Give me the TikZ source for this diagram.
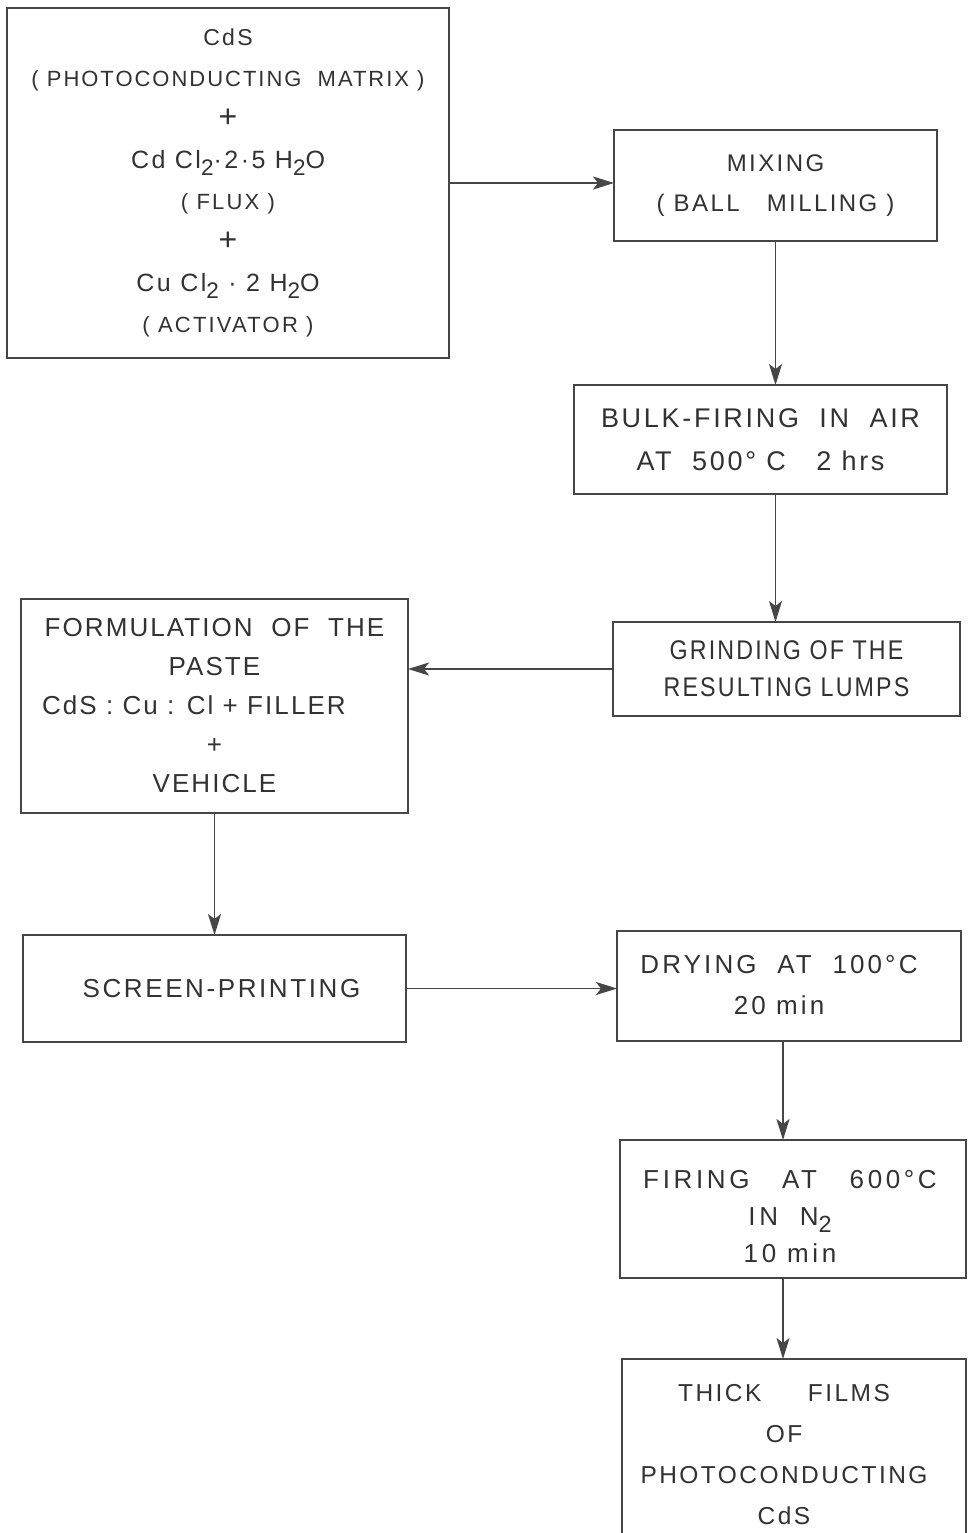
\documentclass[tikz,border=0pt]{standalone}
\usepackage{fontspec}
\setmainfont{Liberation Sans}[LetterSpace=10]
\usetikzlibrary{arrows.meta}
\definecolor{linec}{RGB}{70,70,70}
\definecolor{textc}{RGB}{50,50,50}
\newcommand\chsub[1]{\raisebox{-0.55ex}{\scalebox{0.9}{#1}}}
\newcommand\fs[2]{\fontsize{#1}{#2}\selectfont}
\begin{document}
\begin{tikzpicture}[x=1pt,y=-1pt,
  box/.style={draw=linec, line width=2pt, inner sep=0pt, outer sep=0pt,
    align=center, text=textc},
  arr/.style={draw=linec, line width=1.8pt,
    -{Stealth[length=21pt,width=13pt,inset=5pt,fill=linec]}}]
\clip (0,0) rectangle (967,1533);
\fill[white] (0,0) rectangle (967,1533);

\node[box, minimum width=442pt, minimum height=350pt, font=\fs{22}{41}] (A) at (228,183)
  {{\fs{23}{41}CdS}\\{\addfontfeature{LetterSpace=9}( PHOTOCONDUCTING~ MATRIX )}\\{\fs{32}{41}\addfontfeature{LetterSpace=0}+}\\{\fs{25}{41}Cd Cl\chsub{2}·2·5 H\chsub{2}O}\\( FLUX )\\{\fs{32}{41}\addfontfeature{LetterSpace=0}+}\\{\fs{25}{41}Cu Cl\chsub{2} · 2 H\chsub{2}O}\\( ACTIVATOR )};

\node[box, minimum width=323pt, minimum height=111pt, font=\fs{24}{40}] (B) at (775.5,185.5)
  {MIXING\\( BALL~~ MILLING )};

\node[box, minimum width=373pt, minimum height=109pt, font=\fs{27}{43}] (C) at (760.5,439.5)
  {BULK-FIRING~ IN~ AIR\\AT~ 500° C~~ 2 hrs};

\node[box, minimum width=347pt, minimum height=94pt, font=\fs{27}{37}\addfontfeature{LetterSpace=8,FakeStretch=0.86}] (D) at (786.5,669)
  {GRINDING OF THE\\RESULTING LUMPS};

\node[box, minimum width=387pt, minimum height=214pt, font=\fs{26}{39}\addfontfeature{LetterSpace=8}] (E) at (214.5,706)
  {FORMULATION~ OF~ THE\\PASTE\\\makebox[345pt][l]{CdS : Cu : Cl + FILLER}\\+\\VEHICLE};

\node[box, minimum width=383pt, minimum height=107pt, font=\fs{26}{40}] (F) at (214.5,988.5)
  {\hspace*{14pt}SCREEN-PRINTING};

\node[box, minimum width=344pt, minimum height=110pt, font=\fs{26}{41}\addfontfeature{LetterSpace=12}] (G) at (789,986)
  {\begin{tabular}{@{}c@{}}DRYING~ AT~ 100°C\\[0pt]20 min\end{tabular}\hspace*{20pt}};

\node[box, minimum width=346pt, minimum height=138pt, font=\fs{26}{37}\addfontfeature{LetterSpace=14}] (H) at (793,1209)
  {\raisebox{-9pt}[\height][\depth]{\begin{tabular}{@{}c@{}}FIRING~~ AT~~ 600°C\\IN~ N\chsub{2}\\10 min\end{tabular}}\hspace*{6pt}};

\node[box, minimum width=344pt, minimum height=192pt, font=\fs{24.5}{41}] (I) at (794,1455)
  {\begin{tabular}{@{}c@{}}THICK\hspace{1.9em}FILMS\\OF\\PHOTOCONDUCTING\\CdS\end{tabular}\hspace*{20pt}};

\coordinate (vx) at (783,0);

\draw[arr] (A.east) -- (A.east -| B.west);
\draw[arr] (B.south) -- (B.south |- C.north);
\draw[arr] (C.south -| B.south) -- (D.north -| B.south);
\draw[arr] (D.west) -- (D.west -| E.east);
\draw[arr] (E.south) -- (E.south |- F.north);
\draw[arr] (F.east) -- (F.east -| G.west);
\draw[arr] (G.south -| vx) -- (H.north -| vx);
\draw[arr] (H.south -| vx) -- (I.north -| vx);
\end{tikzpicture}
\end{document}
